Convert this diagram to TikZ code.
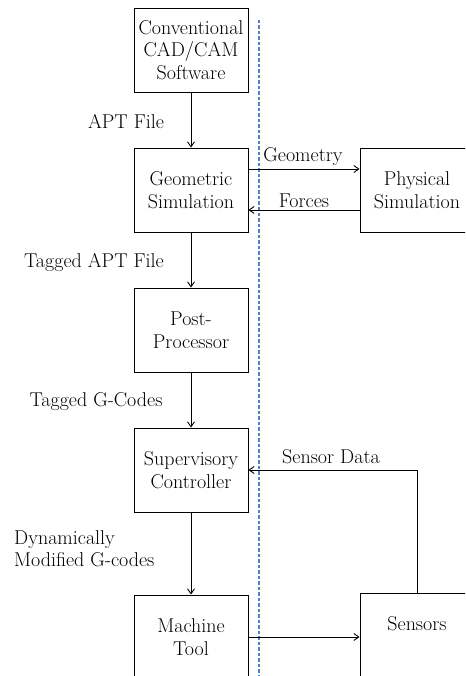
\documentclass[tikz,border=0pt]{standalone}
\usetikzlibrary{arrows.meta}
\definecolor{dashblue}{RGB}{79,129,199}
\begin{document}
\begin{tikzpicture}[x=1pt,y=-1pt,
  box/.style={draw,line width=0.9pt,minimum width=114pt,minimum height=84pt,align=center,inner sep=0pt,font=\fontsize{20}{22.5}\selectfont},
  lbl/.style={font=\fontsize{20}{22.5}\selectfont,inner sep=0pt},
  conn/.style={line width=0.9pt,-{Straight Barb[length=5pt,width=7pt]}},
  divider/.style={draw=dashblue,line width=1.3pt,dash pattern=on 3.5pt off 2pt},
]
\useasboundingbox (0,0) rectangle (465,676);
\clip (0,0) rectangle (465,676);
% boxes
\node[box] (cad) at (191,50) {Conventional\\CAD/CAM\\Software};
\node[box] (geo) at (191,190) {Geometric\\Simulation};
\node[box] (post) at (191,330) {Post-\\Processor};
\node[box] (sup) at (191,470) {Supervisory\\Controller};
\node[box] (mt) at (191,637) {Machine\\Tool};
\node[box] (phys) at (417,190) {Physical\\Simulation};
\node[box] (sens) at (417,635) {Sensors\\\mbox{}};
% divider
\coordinate (dtop) at (259,20);
\coordinate (dbot) at (259,676);
\draw[divider] (dtop) -- (dbot);
% vertical flow
\draw[conn] (cad) -- (geo);
\draw[conn] (geo) -- (post);
\draw[conn] (post) -- (sup);
\draw[conn] (sup) -- (mt);
% side connectors
\draw[conn] ([yshift=21pt]geo.east) -- ([yshift=21pt]phys.west);
\draw[conn] ([yshift=-20pt]phys.west) -- ([yshift=-20pt]geo.east);
\draw[conn] (sens.north) |- (sup.east);
\draw[conn] (mt.east) -- (mt.east -| sens.west);
% labels
\node[lbl] (l1) at (126,122) {APT File};
\node[lbl] (l2) at (94,262) {Tagged APT File};
\node[lbl] (l3) at (96,402) {Tagged G-Codes};
\node[lbl,align=left,anchor=north west] (l4) at (14,530) {Dynamically\\Modified G-codes};
\node[lbl] (l5) at (303,157) {Geometry};
\node[lbl] (l6) at (304,201) {Forces};
\node[lbl] (l7) at (331,457) {Sensor Data};
\end{tikzpicture}
\end{document}
